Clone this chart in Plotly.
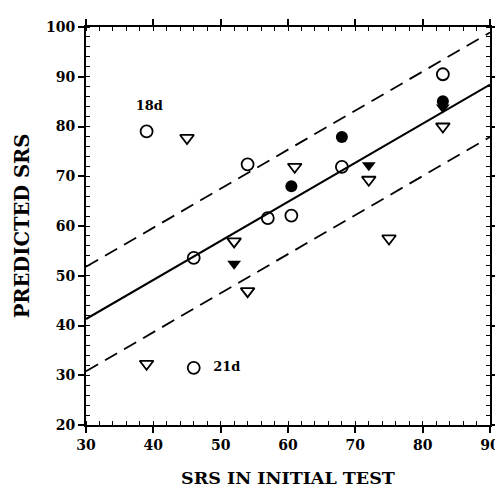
import plotly.graph_objects as go

# Data
open_circle_x = [39, 54, 57, 60.5, 68, 83, 46, 46]
open_circle_y = [79, 72.4, 61.6, 62.1, 71.9, 90.5, 53.6, 31.5]
filled_circle_x = [60.5, 68, 83]
filled_circle_y = [68, 77.9, 85.1]
open_tri_x = [45, 61, 72, 83, 52, 75, 54, 39]
open_tri_y = [77.7, 71.9, 69.3, 80, 56.9, 57.5, 46.9, 32.3]
filled_tri_x = [52, 72, 83]
filled_tri_y = [52.4, 72.2, 83.8]

fit_x = [30, 90]
fit_y = [41.3, 88.4]
upper_y = [51.8, 98.9]
lower_y = [30.8, 77.9]

labels = ["18d", "21d"]
label_x = [39.4, 50.9]
label_y = [83.9, 31.6]

x_ticks = [30, 40, 50, 60, 70, 80, 90]
y_ticks = [20, 30, 40, 50, 60, 70, 80, 90, 100]

font_family = "DejaVu Serif"

fig = go.Figure()
fig.add_trace(go.Scatter(x=fit_x, y=fit_y, mode="lines",
                         line=dict(color="black", width=2)))
fig.add_trace(go.Scatter(x=fit_x, y=upper_y, mode="lines",
                         line=dict(color="black", width=1.8, dash="14px,8px")))
fig.add_trace(go.Scatter(x=fit_x, y=lower_y, mode="lines",
                         line=dict(color="black", width=1.8, dash="14px,8px")))

fig.add_trace(go.Scatter(x=open_circle_x, y=open_circle_y, mode="markers",
                         marker=dict(symbol="circle-open", size=12, color="black",
                                     line=dict(width=1.8))))
fig.add_trace(go.Scatter(x=filled_circle_x, y=filled_circle_y, mode="markers",
                         marker=dict(symbol="circle", size=12, color="black")))
fig.add_trace(go.Scatter(x=open_tri_x, y=open_tri_y, mode="markers",
                         marker=dict(symbol="triangle-down-open", size=12, color="black",
                                     line=dict(width=1.8))))
fig.add_trace(go.Scatter(x=filled_tri_x, y=filled_tri_y, mode="markers",
                         marker=dict(symbol="triangle-down", size=12, color="black")))

fig.add_trace(go.Scatter(x=label_x, y=label_y, mode="text", text=labels,
                         textfont=dict(family=font_family, size=13, color="black",
                                       weight="bold")))

axis_common = dict(
    showgrid=False, zeroline=False, showline=True, linecolor="black", linewidth=2,
    mirror="ticks", ticks="outside", ticklen=6, tickwidth=1.5, tickcolor="black",
    tickfont=dict(family=font_family, size=14, color="black", weight="bold"),
    minor=dict(ticks="inside", dtick=2, ticklen=4, tickwidth=1, tickcolor="black"),
)

fig.update_xaxes(range=[30, 90], tickvals=x_ticks,
                 title=dict(text="SRS IN INITIAL TEST", standoff=20,
                            font=dict(family=font_family, size=17.5, color="black",
                                      weight="bold")),
                 **axis_common)
fig.update_yaxes(range=[20, 100], tickvals=y_ticks,
                 title=dict(text="PREDICTED SRS", standoff=11,
                            font=dict(family=font_family, size=19.5, color="black",
                                      weight="bold")),
                 **axis_common)

fig.update_layout(
    width=503, height=488,
    margin=dict(l=78, r=11, t=18, b=65),
    plot_bgcolor="white", paper_bgcolor="white",
    showlegend=False,
)

fig.write_html("out.html")
